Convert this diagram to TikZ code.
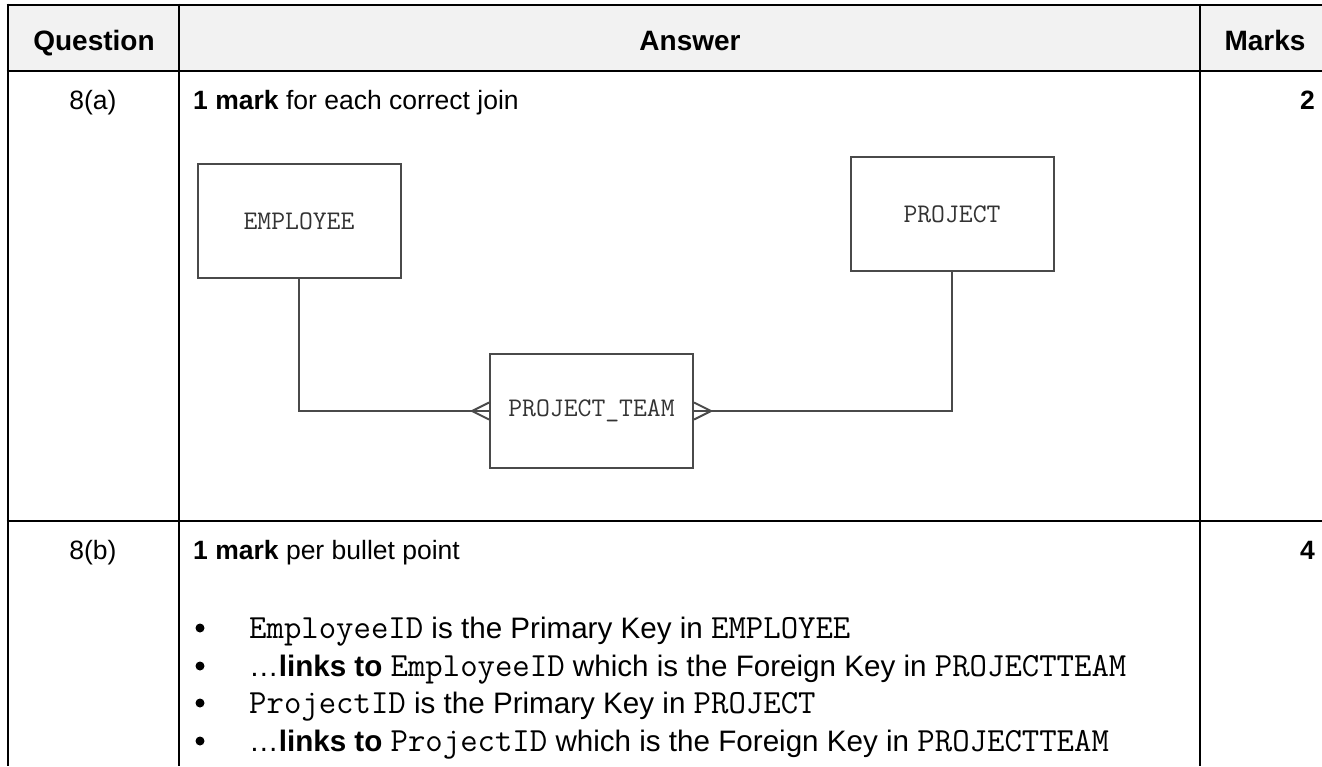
\documentclass[tikz,border=0pt]{standalone}
\usepackage{fontspec}
\setmainfont{Liberation Sans}
\definecolor{headgrey}{HTML}{F2F2F2}
\definecolor{erline}{HTML}{4A4A4A}
\definecolor{ertext}{HTML}{333333}
\newcommand{\cd}[1]{{\ttfamily\fontsize{33.8}{38}\selectfont #1}}
\begin{document}
\begin{tikzpicture}[x=1pt,y=-1pt,
  tbl/.style={line width=2.6pt,black},
  txt/.style={inner sep=0pt,font=\fontsize{26.5}{30}\selectfont},
  hdr/.style={inner sep=0pt,font=\fontsize{28}{31}\selectfont\bfseries},
  btxt/.style={inner sep=0pt,font=\fontsize{29.6}{33}\selectfont},
  entity/.style={draw=erline,line width=2pt,minimum width=203pt,minimum height=114pt,inner sep=0pt,text=ertext,font=\ttfamily\fontsize{26.9}{30}\selectfont},
  conn/.style={draw=erline,line width=2pt},
  bul/.style={circle,fill=black,inner sep=0pt,minimum size=9pt}]
\useasboundingbox (0,0) rectangle (1322,766);
% header background
\fill[headgrey] (8,5) rectangle (1322,71);
% table lines
\draw[tbl] (6.7,5) -- (1322,5);
\draw[tbl] (6.7,71) -- (1322,71);
\draw[tbl] (6.7,521) -- (1322,521);
\draw[tbl] (8,3.7) -- (8,766);
\draw[tbl] (179,3.7) -- (179,766);
\draw[tbl] (1200,3.7) -- (1200,766);
% header
\node[hdr,anchor=base] (hq) at (94,50) {Question};
\node[hdr,anchor=base] (ha) at (690,50) {Answer};
\node[hdr,anchor=base] (hm) at (1265,50) {Marks};
% row a
\node[txt,anchor=base] (qa) at (93,109) {8(a)};
\node[txt,anchor=base west] (ta) at (193,109) {\bfseries 1 mark\mdseries{} for each correct join};
\node[txt,anchor=base east] (ma) at (1315,109) {\bfseries 2};
% ER diagram
\node[entity] (emp) at (299,221) {EMPLOYEE};
\node[entity] (proj) at (952,214) {PROJECT};
\node[entity] (team) at (591.5,411) {PROJECT\_TEAM};
\draw[conn] (emp.south) |- (team.west);
\draw[conn] (team.east) -| (proj.south);
\coordinate (cfl) at ([xshift=-17pt]team.west);
\coordinate (cfr) at ([xshift=17pt]team.east);
\draw[conn] ([yshift=-8.5pt]team.west) -- (cfl) -- ([yshift=8.5pt]team.west);
\draw[conn] ([yshift=-8.5pt]team.east) -- (cfr) -- ([yshift=8.5pt]team.east);
% row b
\node[txt,anchor=base] (qb) at (93,559) {8(b)};
\node[txt,anchor=base west] (tb) at (193,559) {\bfseries 1 mark\mdseries{} per bullet point};
\node[txt,anchor=base east] (mb) at (1315,559) {\bfseries 4};
\node[bul] (b1) at (200,628) {};
\node[bul] (b2) at (200,666) {};
\node[bul] (b3) at (200,703) {};
\node[bul] (b4) at (200,741) {};
\node[btxt,anchor=base west] (l1) at (249,638) {\cd{EmployeeID} is the Primary Key in \cd{EMPLOYEE}};
\node[btxt,anchor=base west] (l2) at (249,676) {\dots\textbf{links to} \cd{EmployeeID} which is the Foreign Key in \cd{PROJECTTEAM}};
\node[btxt,anchor=base west] (l3) at (249,713) {\cd{ProjectID} is the Primary Key in \cd{PROJECT}};
\node[btxt,anchor=base west] (l4) at (249,751) {\dots\textbf{links to} \cd{ProjectID} which is the Foreign Key in \cd{PROJECTTEAM}};
\end{tikzpicture}
\end{document}
